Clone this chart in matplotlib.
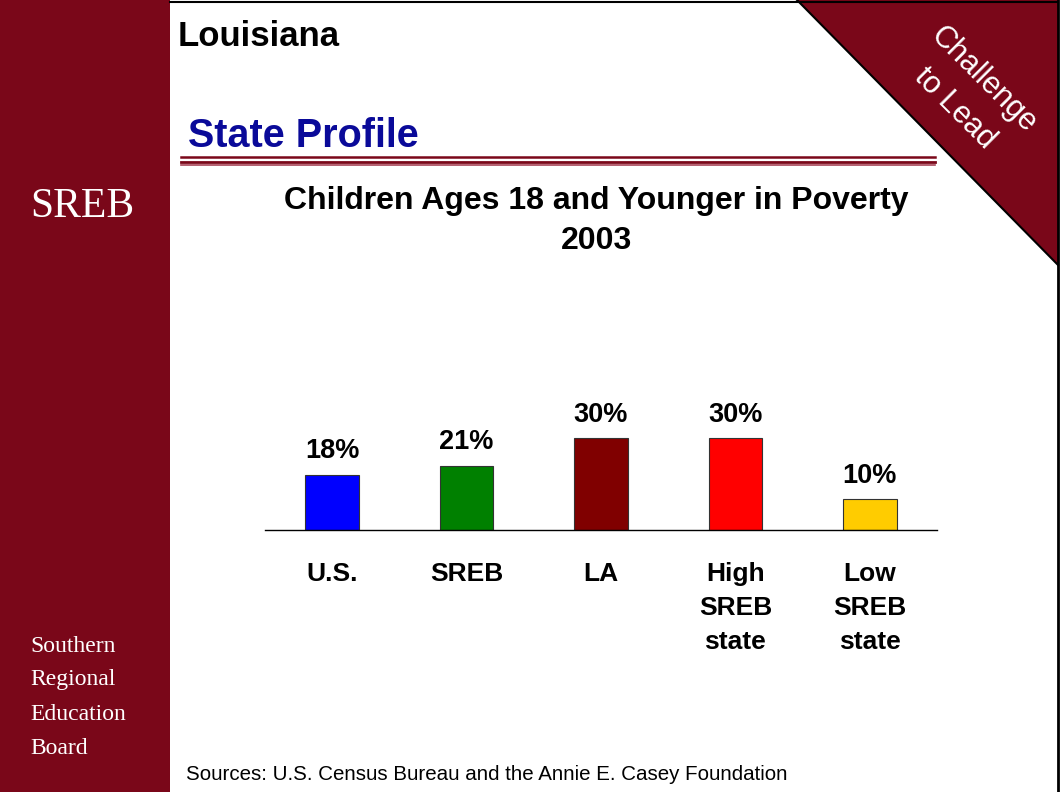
import matplotlib.pyplot as plt
from matplotlib.patches import Rectangle, Polygon

# Poverty rates for children 18 and younger, 2003
categories = ['U.S.', 'SREB', 'LA', 'High\nSREB\nstate', 'Low\nSREB\nstate']
values = [18, 21, 30, 30, 10]
colors = ['#0000FF', '#008000', '#800000', '#FF0000', '#FFCC00']

MAROON = '#7A0719'
W, H = 1061, 792

plt.rcParams['font.family'] = ['Liberation Sans', 'DejaVu Sans']

fig = plt.figure(figsize=(W / 100, H / 100), dpi=100)

# page decorations drawn in pixel coordinates
bg = fig.add_axes([0, 0, 1, 1])
bg.set_xlim(0, W)
bg.set_ylim(H, 0)
bg.axis('off')

bg.add_patch(Rectangle((0, 0), 170, H, color=MAROON, lw=0))
bg.plot([170, 1058], [1.5, 1.5], color='black', lw=1.5)
bg.plot([1058, 1058], [0, H], color='black', lw=2)
bg.add_patch(Polygon([(797, 0), (1058, 0), (1058, 265)], closed=True,
                     facecolor=MAROON, edgecolor='none'))
bg.plot([797, 1058], [0, 265], color='black', lw=1.5)
bg.text(969, 94, 'Challenge\nto Lead', rotation=-45, color='white',
        fontsize=22, ha='center', va='center', linespacing=1.5,
        rotation_mode='anchor')

bg.text(30, 207, 'SREB', color='white', fontsize=30, family='Liberation Serif',
        va='center', ha='left')
for i, word in enumerate(['Southern', 'Regional', 'Education', 'Board']):
    bg.text(30, 646 + 34 * i, word, color='white', fontsize=17,
            family='Liberation Serif', va='center', ha='left')

bg.text(178, 37, 'Louisiana', fontsize=25, fontweight='bold', va='center')
bg.text(188, 136, 'State Profile', fontsize=28.5, fontweight='bold',
        color='#0A0A99', va='center')
bg.plot([181, 935], [157, 157], color=MAROON, lw=1.8)
bg.plot([181, 935], [161.5, 161.5], color=MAROON, lw=2.0)
bg.plot([181, 935], [165, 165], color='#A84458', lw=1.2)

bg.text(596, 221, 'Children Ages 18 and Younger in Poverty\n2003',
        fontsize=23, fontweight='bold', ha='center', va='center',
        linespacing=1.42)
bg.text(186, 775, 'Sources: U.S. Census Bureau and the Annie E. Casey Foundation',
        fontsize=14.8, va='center')

# bar chart
ax = fig.add_axes([265 / W, (H - 530) / H, 672 / W, 230 / H])
x = range(len(categories))
ax.bar(x, values, width=0.40, color=colors, edgecolor='#333333', linewidth=0.8)
ax.set_xlim(-0.5, 4.5)
ax.set_ylim(0, 75)
for xi, v in zip(x, values):
    ax.annotate(f'{v}%', (xi, v), xytext=(0, 7.5), textcoords='offset points',
                ha='center', va='bottom', fontsize=19.5, fontweight='bold')

ax.set_xticks(list(x))
ax.set_xticklabels(categories, fontsize=19, fontweight='bold', linespacing=1.52,
                   va='top')
ax.tick_params(axis='x', length=0, pad=23)
ax.set_yticks([])
for side in ['top', 'left', 'right']:
    ax.spines[side].set_visible(False)
ax.spines['bottom'].set_linewidth(1.0)
ax.patch.set_alpha(0)

fig.savefig('out.png', dpi=100)
